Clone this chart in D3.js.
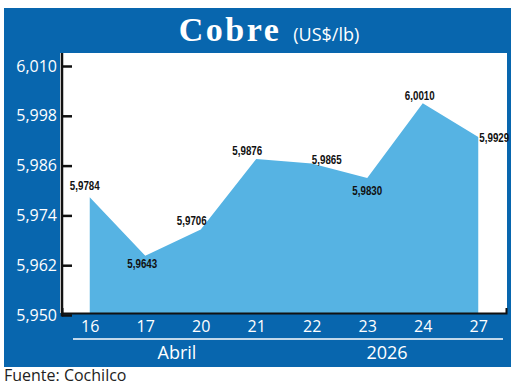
<!DOCTYPE html>
<html>
<head>
<meta charset="utf-8">
<script src="https://cdn.jsdelivr.net/npm/d3@7"></script>
<style>
  body { margin: 0; background: #fff; }
  svg { display: block; }
  text { font-family: 'Open Sans', sans-serif; }
</style>
</head>
<body>
<div id="chartContainer"></div>
<script>
const days = ['16', '17', '20', '21', '22', '23', '24', '27'];
const prices = [5.9784, 5.9643, 5.9706, 5.9876, 5.9865, 5.9830, 6.0010, 5.9929];
const priceLabels = ['5,9784', '5,9643', '5,9706', '5,9876', '5,9865', '5,9830', '6,0010', '5,9929'];
const yTicks = [5.950, 5.962, 5.974, 5.986, 5.998, 6.010];
const yTickLabels = ['5,950', '5,962', '5,974', '5,986', '5,998', '6,010'];

// where each value label sits relative to its point
const labelOffsets = [[-5, -12], [-3, 8], [-9, -9], [-9, -9], [15, -4], [0, 12], [-3, -8], [16, 0]];

const svgWidth = 520;
const svgHeight = 388;
const plot = { left: 60, right: 507, top: 53, bottom: 313 };
const darkBlue = '#0866ae';
const lightBlue = '#56b3e3';

const svg = d3.select('#chartContainer').append('svg').attr('width', svgWidth).attr('height', svgHeight);

// blue frame + white plot area
svg.append('rect').attr('x', 4).attr('y', 8).attr('width', 507).attr('height', 359).attr('fill', darkBlue);
svg.append('rect')
    .attr('x', plot.left)
    .attr('y', plot.top)
    .attr('width', plot.right - plot.left)
    .attr('height', plot.bottom - plot.top)
    .attr('fill', '#fff');

// title
const title = svg.append('text').attr('x', 269).attr('y', 41).attr('text-anchor', 'middle').attr('fill', '#fff');
title.append('tspan')
    .style('font-family', "'Liberation Serif', serif")
    .style('font-weight', 'bold')
    .style('font-size', '34px')
    .style('letter-spacing', '2.5px')
    .text('Cobre');
title.append('tspan').attr('dx', 12).style('font-size', '18px').text('(US$/lb)');

const xScale = d3.scalePoint().domain(days).range([62, 506]).padding(0.5);
const yScale = d3.scaleLinear().domain([5.950, 6.010]).range([315, 66]);

const area = d3.area()
    .x((d, i) => xScale(days[i]))
    .y0(plot.bottom)
    .y1((d) => yScale(d));

svg.append('path').datum(prices).attr('d', area).attr('fill', lightBlue);

// x axis
const xAxis = d3.axisBottom(xScale).tickSizeInner(0).tickSizeOuter(-5).tickPadding(8);
const xg = svg.append('g').attr('transform', `translate(0, ${plot.bottom})`).call(xAxis);
xg.select('.domain').attr('stroke', '#111').attr('stroke-width', 2);
xg.selectAll('text').attr('fill', '#fff').style('font-size', '16px').style('font-family', "'Open Sans', sans-serif");

// y axis
const yAxis = d3.axisLeft(yScale)
    .tickValues(yTicks)
    .tickFormat((d, i) => yTickLabels[i])
    .tickSizeInner(-10)
    .tickSizeOuter(0)
    .tickPadding(5);
const yg = svg.append('g').attr('transform', 'translate(62, 0)').call(yAxis);
yg.select('.domain').remove();
yg.selectAll('line').attr('stroke', '#111').attr('stroke-width', 2.5);
yg.selectAll('text').attr('fill', '#fff').style('font-size', '16px').style('font-family', "'Open Sans', sans-serif");
yg.append('line')
    .attr('x1', 0).attr('x2', 0)
    .attr('y1', plot.top).attr('y2', yScale(5.950) + 1.5)
    .attr('stroke', '#111').attr('stroke-width', 2.5);

// value labels
svg.selectAll('.value-label')
    .data(prices)
    .enter()
    .append('g')
    .attr('class', 'value-label')
    .attr('transform', (d, i) => `translate(${xScale(days[i]) + labelOffsets[i][0]}, ${yScale(d) + labelOffsets[i][1]}) scale(0.75, 1)`)
    .append('text')
    .attr('text-anchor', 'middle')
    .attr('dy', '0.35em')
    .attr('fill', '#111')
    .style('font-family', "'Liberation Sans Narrow', 'Liberation Sans', sans-serif")
    .style('font-weight', 'bold')
    .style('font-size', '13px')
    .text((d, i) => priceLabels[i]);

// separator and period labels
svg.append('line').attr('x1', 73).attr('x2', 503).attr('y1', 339).attr('y2', 339).attr('stroke', '#fff').attr('stroke-width', 1.5);
svg.append('text').attr('x', 177).attr('y', 359).attr('text-anchor', 'middle').attr('fill', '#fff').style('font-size', '18px').text('Abril');
svg.append('text').attr('x', 387).attr('y', 359).attr('text-anchor', 'middle').attr('fill', '#fff').style('font-size', '18px').text('2026');

svg.append('text').attr('x', 4).attr('y', 381).attr('fill', '#222').style('font-size', '16px').text('Fuente: Cochilco');
</script>
</body>
</html>
